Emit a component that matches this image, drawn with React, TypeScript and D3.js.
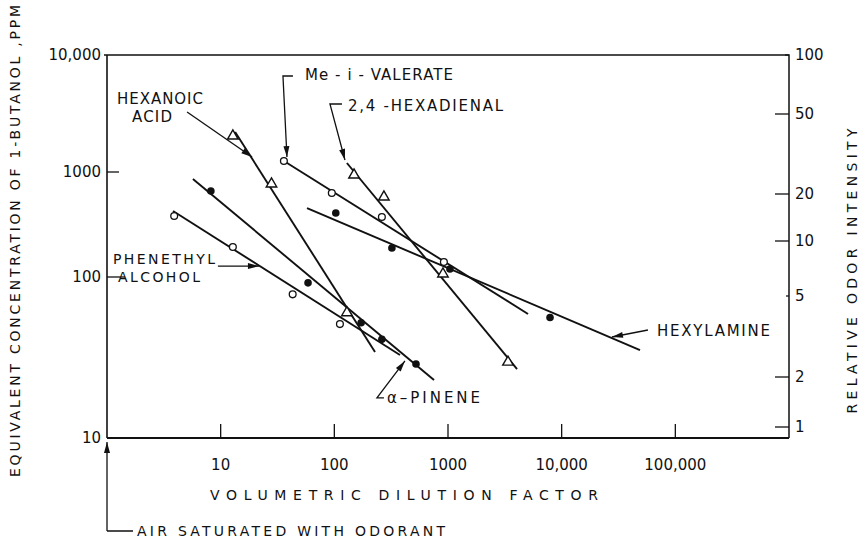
import React from "react";
import * as d3 from "d3";

// x = volumetric dilution factor, y = equivalent concentration of 1-butanol (ppm)
const xTicks = [10, 100, 1000, 10000, 100000];
const xTickLabels = ["10", "100", "1000", "10,000", "100,000"];
const leftTicks = [10000, 1000, 100, 10];
const leftTickLabels = ["10,000", "1000", "100", "10"];
const rightTicks = [100, 50, 20, 10, 5, 2, 1];

// measured points [dilution, ppm]
const hexanoicPts = [[12.8, 2030], [28, 770], [129, 60]];
const valeratePts = [[36, 1240], [95, 630], [262, 373], [920, 139]];
const hexylaminePts = [[103, 407], [321, 189], [1040, 119], [7900, 56]];
const hexadienalPts = [[149, 936], [273, 578], [903, 107], [3370, 29.6]];
const phenethylPts = [[3.9, 381], [12.8, 193], [43, 78], [112, 51]];
const pinenePts = [[8.2, 659], [58.7, 92], [172, 52], [262, 41], [523, 28.8]];

// fitted lines [start, end]
const hexanoicFit = [[13.4, 2200], [228, 34.2]];
const valerateFit = [[36, 1240], [5060, 58.9]];
const hexylamineFit = [[57.5, 454], [48900, 35.2]];
const hexadienalFit = [[129, 1194], [4050, 26.8]];
const phenethylFit = [[3.81, 425], [378, 32.8]];
const pineneFit = [[5.7, 858], [753, 22.9]];

const series = [
  { pts: hexanoicPts, fit: hexanoicFit, mark: "tri" },
  { pts: valeratePts, fit: valerateFit, mark: "open" },
  { pts: hexylaminePts, fit: hexylamineFit, mark: "dot" },
  { pts: hexadienalPts, fit: hexadienalFit, mark: "tri" },
  { pts: phenethylPts, fit: phenethylFit, mark: "open" },
  { pts: pinenePts, fit: pineneFit, mark: "dot" },
];

// arrow tips in data units, path bends as pixel offsets from the tip
const arrows = [
  { tip: [18.9, 1343], path: [[-65, -45]] },
  { tip: [38.3, 1343], path: [[-4, -81], [6, -81]] },
  { tip: [124, 1266], path: [[-15, -56], [-3, -56]] },
  { tip: [21.7, 127], path: [[-41, 0]] },
  { tip: [418, 30.1], path: [[-28, 37], [-21, 37]] },
  { tip: [27700, 42.4], path: [[36, -7]] },
];

const font = "'DejaVu Sans', sans-serif";

function arrowHead(tx: number, ty: number, fx: number, fy: number) {
  const a = Math.atan2(ty - fy, tx - fx);
  const len = 11, hw = 3;
  const bx = tx - len * Math.cos(a), by = ty - len * Math.sin(a);
  const px = -Math.sin(a) * hw, py = Math.cos(a) * hw;
  return `M${tx},${ty}L${bx + px},${by + py}L${bx - px},${by - py}Z`;
}

export default function App() {
  const x = d3.scaleLog().domain([1, 1e6]).range([107, 789]);
  const y = d3.scaleLog().domain([10000, 1000, 100, 10]).range([55, 172, 277, 438]);
  const yR = d3.scaleLog().domain([100, 50, 20, 10, 5, 2, 1]).range([55, 114, 194, 241, 296, 377, 427]);
  const tri = d3.symbol(d3.symbolTriangle, 48)();

  return (
    <svg width={862} height={549} style={{ display: "block", position: "absolute", left: 0, top: 0, background: "#fff" }}>
      <g fill="#111" fontFamily={font}>
        {/* frame */}
        <path d={`M${x(1)},${y(10000)}H${x(1e6)}V${y(10)}`} fill="none" stroke="#111" strokeWidth={1.5} />
        <line x1={x(1)} x2={x(1)} y1={y(10000)} y2={y(10)} stroke="#111" strokeWidth={1.6} />
        <line x1={x(1)} x2={x(1e6)} y1={y(10)} y2={y(10)} stroke="#111" strokeWidth={2.2} />
        <line x1={x(1) - 3} x2={x(1)} y1={y(10000)} y2={y(10000)} stroke="#111" strokeWidth={1.5} />

        {/* x ticks */}
        {xTicks.map((t, i) => (
          <g key={t}>
            <line x1={x(t)} x2={x(t)} y1={y(10)} y2={y(10) - 14} stroke="#111" strokeWidth={1.3} />
            <text x={x(t)} y={470} fontSize={15} textAnchor="middle">{xTickLabels[i]}</text>
          </g>
        ))}

        {/* left ticks */}
        {leftTicks.map((t, i) => (
          <g key={t}>
            {i === 1 || i === 2 ? (
              <line x1={x(1)} x2={x(1) + (i === 1 ? 12 : 18)} y1={y(t)} y2={y(t)} stroke="#111" strokeWidth={1.3} />
            ) : null}
            <text x={101} y={y(t)} dy="0.36em" fontSize={15} textAnchor="end">{leftTickLabels[i]}</text>
          </g>
        ))}

        {/* right ticks */}
        {rightTicks.map((t) => (
          <g key={t}>
            <line x1={x(1e6)} x2={x(1e6) - (t === 100 ? 4 : t === 5 ? 3 : 14)} y1={yR(t)} y2={yR(t)} stroke="#111" strokeWidth={1.3} />
            <text x={795} y={yR(t)} dy="0.36em" fontSize={15}>{String(t)}</text>
          </g>
        ))}

        {/* axis titles */}
        <text transform="translate(20,241) rotate(-90)" fontSize={14} textAnchor="middle" textLength={472} lengthAdjust="spacing">
          EQUIVALENT CONCENTRATION OF 1-BUTANOL ,PPM
        </text>
        <text transform="translate(857,271) rotate(-90)" fontSize={14} textAnchor="middle" textLength={285} lengthAdjust="spacing">
          RELATIVE ODOR INTENSITY
        </text>
        <text x={404} y={500} fontSize={14} textAnchor="middle" textLength={388} lengthAdjust="spacing">
          VOLUMETRIC DILUTION FACTOR
        </text>
        <text x={137} y={536} fontSize={14} textLength={308} lengthAdjust="spacing">
          AIR SATURATED WITH ODORANT
        </text>
        <path d={`M${x(1)},531V${y(10) + 4}M${x(1)},531H${x(1) + 26}`} fill="none" stroke="#111" strokeWidth={1.3} />
        <path d={arrowHead(x(1), y(10) + 4, x(1), 531)} />

        {/* fitted lines */}
        {series.map((s, i) => (
          <line key={i} x1={x(s.fit[0][0])} y1={y(s.fit[0][1])} x2={x(s.fit[1][0])} y2={y(s.fit[1][1])} stroke="#111" strokeWidth={1.9} />
        ))}

        {/* data markers */}
        {series.map((s, i) =>
          s.pts.map((p, j) => {
            const cx = x(p[0]), cy = y(p[1]);
            if (s.mark === "tri")
              return <path key={`${i}-${j}`} d={tri} transform={`translate(${cx},${cy})`} fill="#fff" stroke="#111" strokeWidth={1.4} />;
            if (s.mark === "open")
              return <circle key={`${i}-${j}`} cx={cx} cy={cy} r={3.4} fill="#fff" stroke="#111" strokeWidth={1.3} />;
            return <circle key={`${i}-${j}`} cx={cx} cy={cy} r={3.8} fill="#111" />;
          })
        )}

        {/* annotation arrows */}
        {arrows.map((a, i) => {
          const tx = x(a.tip[0]), ty = y(a.tip[1]);
          const pts = [[tx, ty], ...a.path.map((o) => [tx + o[0], ty + o[1]])];
          return (
            <g key={i}>
              <path d={d3.line()(pts as [number, number][]) as string} fill="none" stroke="#111" strokeWidth={1.3} />
              <path d={arrowHead(tx, ty, pts[1][0], pts[1][1])} />
            </g>
          );
        })}

        {/* series labels */}
        <g fontSize={15}>
          <text x={117} y={104} textLength={86} lengthAdjust="spacing">HEXANOIC</text>
          <text x={132} y={122} textLength={40} lengthAdjust="spacing">ACID</text>
          <text x={305} y={80} textLength={148} lengthAdjust="spacing">Me - i - VALERATE</text>
          <text x={348} y={111} textLength={155} lengthAdjust="spacing">2,4 -HEXADIENAL</text>
          <text x={113} y={264} fontSize={14} textLength={102} lengthAdjust="spacing">PHENETHYL</text>
          <text x={118} y={282} fontSize={14} textLength={82} lengthAdjust="spacing">ALCOHOL</text>
          <text x={387} y={403} textLength={93} lengthAdjust="spacing">α–PINENE</text>
          <text x={657} y={336} textLength={113} lengthAdjust="spacing">HEXYLAMINE</text>
        </g>
      </g>
    </svg>
  );
}
